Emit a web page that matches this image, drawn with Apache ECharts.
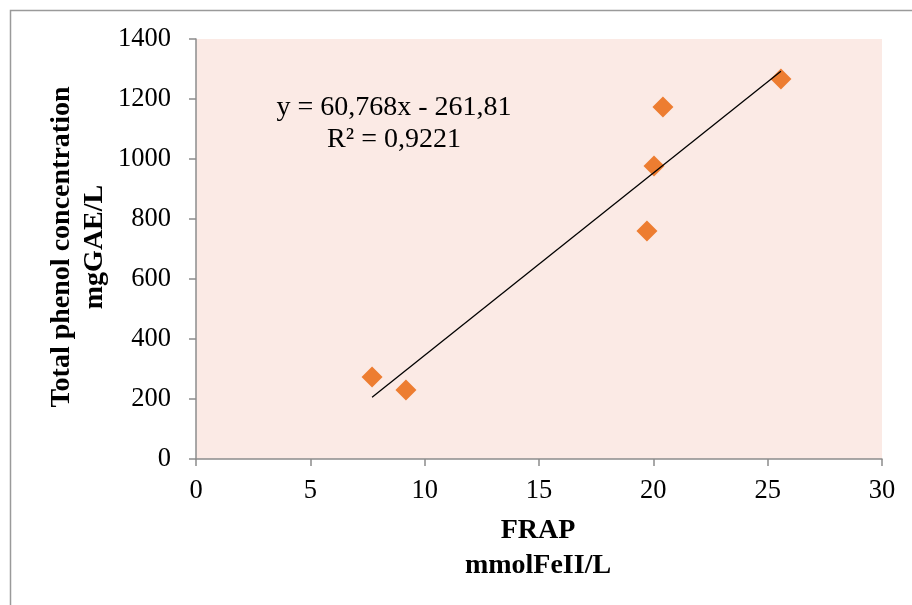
<!DOCTYPE html>
<html>
<head>
<meta charset="utf-8">
<script src="https://cdn.jsdelivr.net/npm/echarts@6/dist/echarts.min.js"></script>
<style>html,body{margin:0;padding:0;background:#fff}#c{width:912px;height:605px}</style>
</head>
<body>
<div id="c"></div>
<script>
var frapValues = [7.7, 9.18, 19.72, 20.03, 20.42, 25.58];
var phenolValues = [273, 230, 760, 977, 1173, 1267];
var trendSlope = 60.768;
var trendIntercept = -261.81;
var equationText = 'y = 60,768x - 261,81';
var r2Text = 'R² = 0,9221';
var xTitle = 'FRAP\nmmolFeII/L';
var yTitle = 'Total phenol concentration\nmgGAE/L';

var points = frapValues.map(function (x, i) { return [x, phenolValues[i]]; });
var xMin = Math.min.apply(null, frapValues), xMax = Math.max.apply(null, frapValues);
var trend = [[xMin, trendSlope * xMin + trendIntercept], [xMax, trendSlope * xMax + trendIntercept]];

var font = 'Liberation Serif';
var fs = 26.5;
var fsBig = 28;
var chart = echarts.init(document.getElementById('c'));
chart.setOption({
  animation: false,
  grid: { left: 196, right: 30, top: 39, bottom: 146, show: true, backgroundColor: '#FBEAE5', borderWidth: 0 },
  xAxis: {
    type: 'value', min: 0, max: 30, interval: 5,
    axisLine: { show: true, onZero: false, lineStyle: { color: '#8c8c8c', width: 1.5 } },
    axisTick: { show: true, length: 7, lineStyle: { color: '#8c8c8c', width: 1.5 } },
    axisLabel: { color: '#000', fontFamily: font, fontSize: fs, margin: 19, formatter: function (v) { return String(v); } },
    splitLine: { show: false }
  },
  yAxis: {
    type: 'value', min: 0, max: 1400, interval: 200,
    axisLine: { show: true, lineStyle: { color: '#8c8c8c', width: 1.5 } },
    axisTick: { show: true, length: 7, lineStyle: { color: '#8c8c8c', width: 1.5 } },
    axisLabel: { color: '#000', fontFamily: font, fontSize: fs, margin: 25, formatter: function (v) { return String(v); } },
    splitLine: { show: false }
  },
  series: [
    {
      type: 'line', data: trend, symbol: 'none', silent: true,
      lineStyle: { color: '#000', width: 1.3 }, z: 3
    },
    {
      type: 'scatter', data: points, symbol: 'diamond', symbolSize: [21, 21],
      itemStyle: { color: '#ED7D31', opacity: 1 }, z: 2
    }
  ],
  graphic: [
    { type: 'rect', shape: { x: 10.5, y: 10.5, width: 920, height: 620 }, style: { fill: 'none', stroke: '#9a9a9a', lineWidth: 1.5 }, silent: true },
    { type: 'text', x: 394, y: 108, style: { text: equationText, fontFamily: font, fontSize: fsBig, fill: '#000', align: 'center', verticalAlign: 'middle' } },
    { type: 'text', x: 394, y: 140, style: { text: r2Text, fontFamily: font, fontSize: fsBig, fill: '#000', align: 'center', verticalAlign: 'middle' } },
    { type: 'text', x: 538, y: 548, style: { text: xTitle, fontFamily: font, fontSize: fsBig, fontWeight: 'bold', fill: '#000', align: 'center', verticalAlign: 'middle', lineHeight: 35 } },
    { type: 'text', x: 78, y: 247, rotation: Math.PI / 2, style: { text: yTitle, fontFamily: font, fontSize: fsBig, fontWeight: 'bold', fill: '#000', align: 'center', verticalAlign: 'middle', lineHeight: 33 } }
  ]
});
</script>
</body>
</html>
